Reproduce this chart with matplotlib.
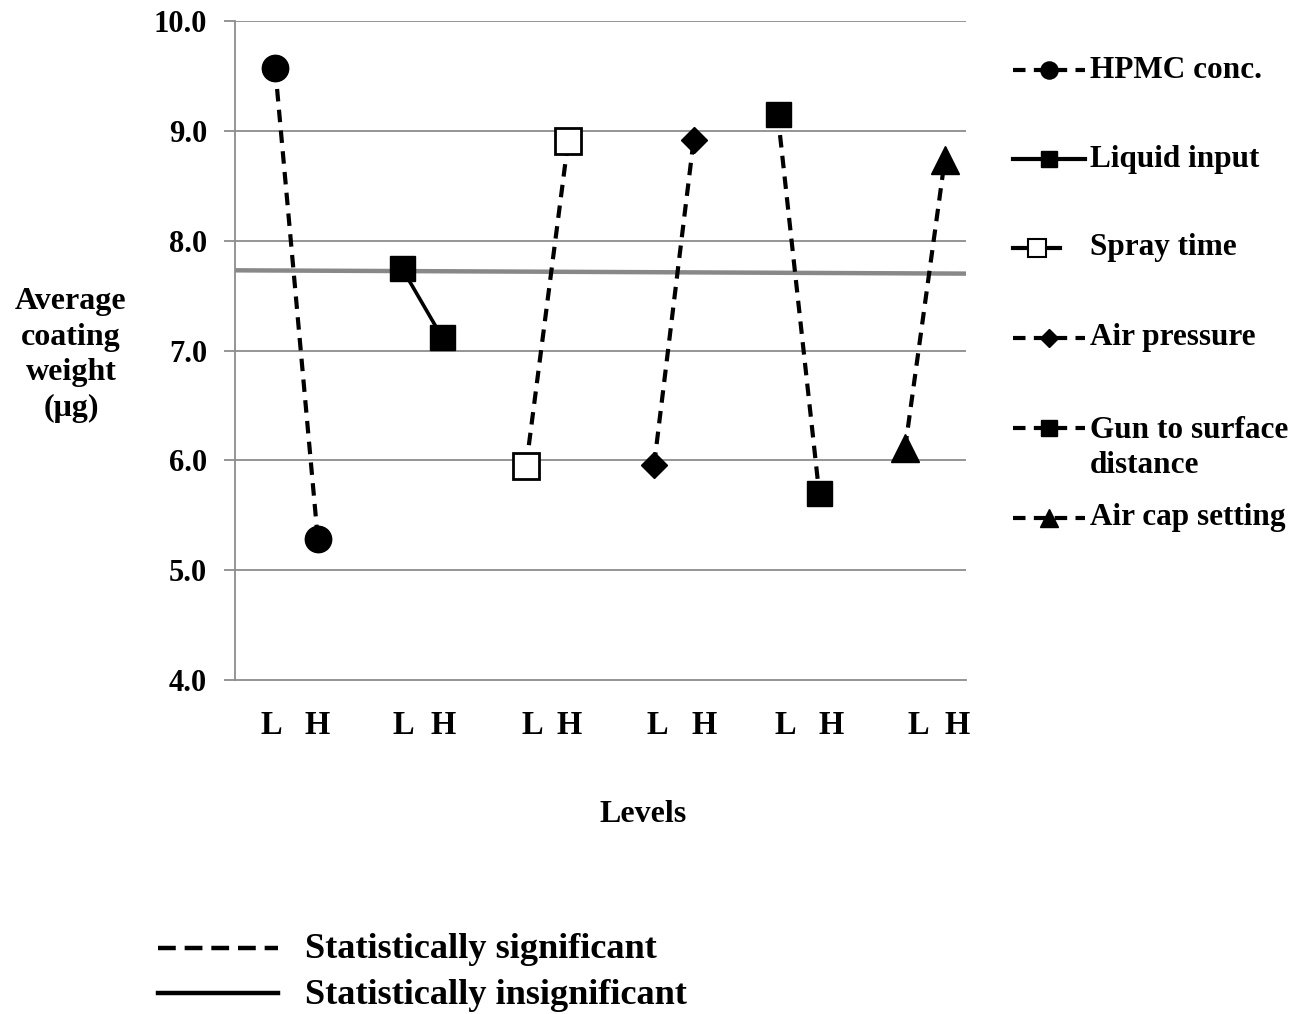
import matplotlib
matplotlib.use("Agg")
import matplotlib.pyplot as plt
from matplotlib.lines import Line2D

plt.rcParams['font.family'] = ['Liberation Serif', 'DejaVu Serif']
plt.rcParams['font.weight'] = 'bold'

# ---- data ----
factors = ["HPMC conc.", "Liquid input", "Spray time", "Air pressure",
           "Gun to surface\ndistance", "Air cap setting"]
low_values = [9.57, 7.75, 5.95, 5.96, 9.15, 6.11]
high_values = [5.28, 7.12, 8.91, 8.92, 5.70, 8.73]
significant = [True, False, True, True, True, True]
level_labels = ["L", "H"]
# x positions of the L / H points of each factor (in axis units, 0..12)
x_low = [0.66, 2.74, 4.78, 6.88, 8.91, 11.00]
x_high = [1.36, 3.40, 5.47, 7.53, 9.59, 11.65]
# x positions of the L / H category labels
lab_low = [0.59, 2.77, 4.88, 6.94, 9.03, 11.21]
lab_high = [1.35, 3.41, 5.48, 7.70, 9.78, 11.85]
mean_line = [7.73, 7.70]
y_ticks = [4.0, 5.0, 6.0, 7.0, 8.0, 9.0, 10.0]

# ---- styles ----
markers = ['o', 's', 's', 'D', 's', '^']
msizes = [19, 18, 19, 13.5, 18, 20]
faces = ['black', 'black', 'white', 'black', 'black', 'black']
dash = (0, (3, 2))

W, H = 1298, 1014
fig = plt.figure(figsize=(W / 100, H / 100), dpi=100)
ax = fig.add_axes([235 / W, 1 - 680 / H, (966 - 235) / W, (680 - 21) / H])

ax.set_xlim(0, 12)
ax.set_ylim(4.0, 10.0)
ax.set_yticks(y_ticks)
ax.set_yticklabels([f"{v:.1f}" for v in y_ticks], fontsize=22, fontweight='bold')
ax.set_xticks([])
grid_c = '#8c8c8c'
for v in y_ticks[1:]:
    ax.axhline(v, color=grid_c, lw=1.3, zorder=1)
for s in ['top', 'right']:
    ax.spines[s].set_visible(False)
ax.spines['left'].set_color(grid_c)
ax.spines['left'].set_linewidth(1.3)
ax.spines['bottom'].set_color(grid_c)
ax.spines['bottom'].set_linewidth(1.3)
ax.tick_params(axis='y', color=grid_c, width=1.3, length=8, pad=12)

# mean line
ax.plot([0, 12], mean_line, color='#888888', lw=3.2, zorder=2, solid_capstyle='butt')

for i in range(len(factors)):
    ls = dash if significant[i] else '-'
    lw = 3.0 if significant[i] else 2.6
    ax.plot([x_low[i], x_high[i]], [low_values[i], high_values[i]],
            color='black', lw=lw, linestyle=ls, zorder=3,
            marker=markers[i], markersize=msizes[i], markerfacecolor=faces[i],
            markeredgecolor='black', markeredgewidth=2.0 if faces[i] == 'white' else 1.0)

# level labels
for i in range(len(factors)):
    ax.text(lab_low[i], -0.069, level_labels[0], transform=ax.get_xaxis_transform(),
            ha='center', va='center', fontsize=23.5, fontweight='bold')
    ax.text(lab_high[i], -0.069, level_labels[1], transform=ax.get_xaxis_transform(),
            ha='center', va='center', fontsize=23.5, fontweight='bold')

fig.text(643 / W, 1 - 814 / H, "Levels", ha='center', va='center', fontsize=23, fontweight='bold')
fig.text(71 / W, 1 - 355 / H, "Average\ncoating\nweight\n(μg)", ha='center', va='center',
         fontsize=23, fontweight='bold', linespacing=1.3)

# right legend (manual)
leg_y = [70, 159, 248, 338, 448, 518]
for i in range(len(factors)):
    y = 1 - leg_y[i] / H
    ls = dash if significant[i] else '-'
    x0, x1 = 1013, 1085
    if i == 2:
        x1 = 1060
    xm = (x0 + x1) / 2
    ys = y if i != 4 else 1 - 428 / H
    fig.add_artist(Line2D([x0 / W, x1 / W], [ys, ys], transform=fig.transFigure,
                          color='black', lw=3.0, linestyle=ls if i != 2 else '-'))
    fig.add_artist(Line2D([xm / W], [ys], transform=fig.transFigure,
                          marker=markers[i], markersize=msizes[i] * 0.65,
                          markerfacecolor=faces[i], markeredgecolor='black',
                          markeredgewidth=1.5 if faces[i] == 'white' else 1.0,
                          linestyle='none'))
    fig.text(1090 / W, y, factors[i], ha='left', va='center',
             fontsize=22.5, fontweight='bold', linespacing=1.3)

# bottom legend
fig.add_artist(Line2D([158 / W, 278 / W], [1 - 948 / H] * 2, transform=fig.transFigure,
                      color='black', lw=3.2, linestyle=(0, (4, 2))))
fig.add_artist(Line2D([158 / W, 278 / W], [1 - 993 / H] * 2, transform=fig.transFigure,
                      color='black', lw=3.2, linestyle='-'))
fig.text(305 / W, 1 - 950 / H, "Statistically significant", ha='left', va='center',
         fontsize=26.2, fontweight='bold')
fig.text(305 / W, 1 - 995 / H, "Statistically insignificant", ha='left', va='center',
         fontsize=26.2, fontweight='bold')

fig.savefig("out.png", dpi=100, facecolor='white')
